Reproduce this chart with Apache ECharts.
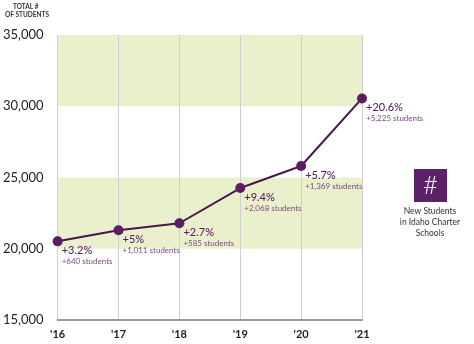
<!DOCTYPE html>
<html>
<head>
<meta charset="utf-8">
<script src="https://cdn.jsdelivr.net/npm/echarts@6/dist/echarts.min.js"></script>
<style>
  html, body { margin: 0; padding: 0; background: #fff; }
  #chart { width: 474px; height: 344px; }
</style>
</head>
<body>
<div id="chart"></div>
<script>
// School years (fall of each year)
const years = ["'16", "'17", "'18", "'19", "'20", "'21"];
// Total charter school students
const totals = [20520, 21300, 21790, 24260, 25810, 30550];
// Year-over-year growth shown beside each point
const pctChange = ['+3.2%', '+5%', '+2.7%', '+9.4%', '+5.7%', '+20.6%'];
const newStudents = ['+640 students', '+1,011 students', '+585 students', '+2,068 students', '+1,369 students', '+5,225 students'];
// Y axis range
const yMin = 15000, yMax = 35000, yStep = 5000;

const FONT = 'Lato, "Open Sans", sans-serif';
const PURPLE = '#5a1d61';

const chart = echarts.init(document.getElementById('chart'), null, { renderer: 'canvas' });

chart.setOption({
  animation: false,
  backgroundColor: '#fff',
  grid: { left: 57, right: 112, top: 35, bottom: 24, containLabel: false },
  xAxis: {
    type: 'category',
    data: years,
    boundaryGap: false,
    axisLine: { show: true, lineStyle: { color: '#9a9a9a', width: 2 } },
    axisTick: { show: false },
    axisLabel: { color: '#222', fontFamily: FONT, fontSize: 11, fontWeight: 'bold', margin: 9 },
    splitLine: { show: true, lineStyle: { color: '#cfcfcf', width: 1 } }
  },
  yAxis: {
    type: 'value',
    min: yMin, max: yMax, interval: yStep,
    axisLine: { show: false },
    axisTick: { show: false },
    splitLine: { show: false },
    splitArea: { show: true, areaStyle: { color: ['rgba(255,255,255,0)', '#e9f0cb'] } },
    axisLabel: {
      color: '#222', fontFamily: FONT, fontSize: 13, margin: 14,
      formatter: v => v.toLocaleString('en-US')
    }
  },
  series: [{
    type: 'line',
    data: totals,
    symbol: 'circle',
    symbolSize: 10,
    lineStyle: { color: '#4a1650', width: 2 },
    itemStyle: { color: PURPLE },
    label: {
      show: true,
      position: [9, 8],
      align: 'left',
      verticalAlign: 'top',
      formatter: p => '{a|' + pctChange[p.dataIndex] + '}\n{b|' + newStudents[p.dataIndex] + '}',
      rich: {
        a: { fontFamily: FONT, fontSize: 11, color: PURPLE, lineHeight: 12, fontWeight: 500 },
        b: { fontFamily: FONT, fontSize: 8, color: '#7b4a82', lineHeight: 11 }
      }
    }
  }],
  graphic: [
    {
      type: 'text', left: 13, top: 3,
      style: { text: 'TOTAL #', fontFamily: FONT, fontSize: 6.5, fill: '#333', fontWeight: 'bold' }
    },
    {
      type: 'text', left: 5, top: 11,
      style: { text: 'OF STUDENTS', fontFamily: FONT, fontSize: 6.5, fill: '#333', fontWeight: 'bold' }
    },
    {
      type: 'rect', shape: { x: 414, y: 169, width: 33, height: 33 },
      style: { fill: '#5e2169' }
    },
    {
      type: 'text', x: 430.5, y: 186,
      style: { text: '#', fontFamily: FONT, fontSize: 26, fill: '#fff', align: 'center', verticalAlign: 'middle', fontWeight: 300 }
    },
    {
      type: 'text', x: 430, y: 206,
      style: {
        text: 'New Students\nin Idaho Charter\nSchools',
        fontFamily: FONT, fontSize: 8.5, fill: '#333', align: 'center', lineHeight: 11
      }
    }
  ]
});
</script>
</body>
</html>
